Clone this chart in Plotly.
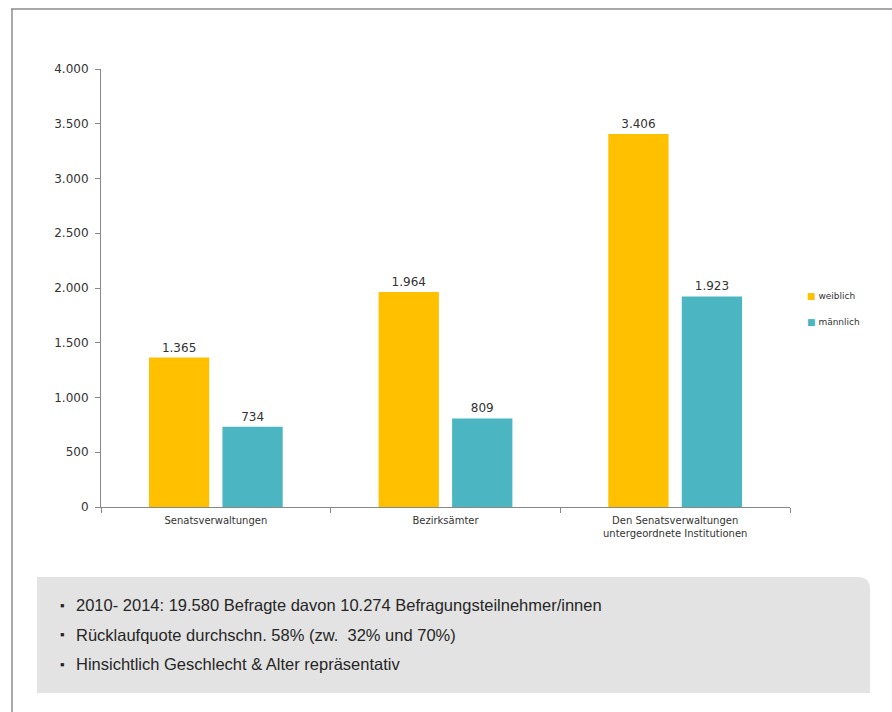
import plotly.graph_objects as go

# Survey participants by administration type and gender
categories = ["Senatsverwaltungen", "Bezirksämter",
              "Den Senatsverwaltungen<br>untergeordnete Institutionen"]
weiblich = [1365, 1964, 3406]
maennlich = [734, 809, 1923]
series_names = ["weiblich", "männlich"]
y_ticks = [0, 500, 1000, 1500, 2000, 2500, 3000, 3500, 4000]
notes = [
    "2010- 2014: 19.580 Befragte davon 10.274 Befragungsteilnehmer/innen",
    "Rücklaufquote durchschn. 58% (zw.  32% und 70%)",
    "Hinsichtlich Geschlecht & Alter repräsentativ",
]

ORANGE = "#FFC000"
TEAL = "#4BB6C2"
W, H = 892, 712
L, R, T, B = 101, 102, 69, 205   # plot-area margins in px
PW, PH = W - L - R, H - T - B


def px(x):
    return (x - L) / PW


def py(y):
    return (H - B - y) / PH


tick_font = dict(family="DejaVu Sans", size=12, color="#333333")
colors = [ORANGE, TEAL]

fig = go.Figure()
for name, vals, col in zip(series_names, [weiblich, maennlich], colors):
    fig.add_trace(go.Bar(
        x=categories, y=vals, name=name, marker_color=col,
        marker_line_width=0, showlegend=False,
        texttemplate="%{y:,}", textposition="outside",
        textfont=tick_font, cliponaxis=False,
    ))

# compact legend: coloured square + series name
for i, (name, col) in enumerate(zip(series_names, colors)):
    fig.add_annotation(
        xref="paper", yref="paper", x=px(805), y=py(296 + i * 26),
        xanchor="left", yanchor="middle", showarrow=False,
        text=f'<span style="color:{col}">■</span> {name}',
        font=dict(family="DejaVu Sans", size=9, color="#333333"),
    )

# rounded grey note panel below the chart
x0, x1, y0, y1, r = px(37), px(870), py(693), py(577), 12 / PW
ry = 12 / PH
fig.add_shape(
    type="path", xref="paper", yref="paper",
    path=(f"M {x0},{y0} L {x0},{y1} L {x1 - r},{y1} "
          f"Q {x1},{y1} {x1},{y1 - ry} L {x1},{y0} Z"),
    fillcolor="#E3E3E3", line=dict(width=0), layer="below",
)
# outer frame lines
fig.add_shape(type="line", xref="paper", yref="paper",
              x0=px(11), x1=px(892), y0=py(9), y1=py(9),
              line=dict(color="#8C8C8C", width=1.5))
fig.add_shape(type="line", xref="paper", yref="paper",
              x0=px(12), x1=px(12), y0=py(9), y1=py(712),
              line=dict(color="#8C8C8C", width=1.5))

for i, txt in enumerate(notes):
    yy = py(605 + i * 29.5)
    fig.add_annotation(xref="paper", yref="paper", x=px(58), y=yy,
                       text="▪", showarrow=False, xanchor="left", yanchor="middle",
                       font=dict(family="Liberation Sans", size=13, color="#222222"))
    fig.add_annotation(xref="paper", yref="paper", x=px(74), y=yy,
                       text=txt, showarrow=False, xanchor="left", yanchor="middle",
                       font=dict(family="Liberation Sans", size=16.5, color="#262626"))

fig.update_layout(
    width=W, height=H, margin=dict(l=L, r=R, t=T, b=B),
    paper_bgcolor="white", plot_bgcolor="white",
    separators=",.",
    barmode="group", bargap=0.36, bargroupgap=0.18,
    showlegend=False,
    font=dict(family="DejaVu Sans"),
)
fig.update_xaxes(
    type="category", tickson="boundaries", ticks="outside", ticklen=5,
    tickcolor="#888888", showline=True, linecolor="#888888", linewidth=1,
    showgrid=False, tickfont=dict(family="DejaVu Sans", size=10, color="#333333"),
    ticklabelstandoff=4, fixedrange=True,
)
fig.update_yaxes(
    range=[0, 4000], tickvals=y_ticks, tickformat=",", ticks="outside",
    ticklen=5, tickcolor="#888888", showline=True, linecolor="#888888",
    linewidth=1, showgrid=False, zeroline=False, tickfont=tick_font,
    ticklabelstandoff=4, fixedrange=True,
)

fig.write_html("out.html")
